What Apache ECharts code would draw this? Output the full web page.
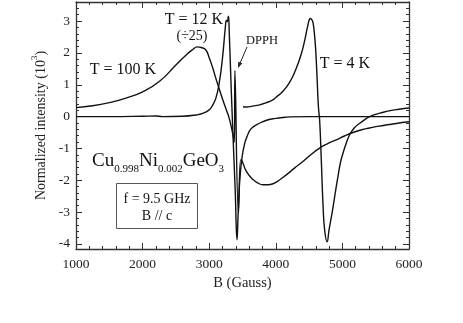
<!DOCTYPE html>
<html>
<head>
<meta charset="utf-8">
<script src="https://cdn.jsdelivr.net/npm/echarts@6/dist/echarts.min.js"></script>
<style>
  html, body { margin: 0; padding: 0; background: #fff; }
  #chart { width: 463px; height: 323px; }
</style>
</head>
<body>
<div id="chart"></div>
<script>
// magnetic field (Gauss) and normalized intensity
const fieldT100 = [1000, 1250, 1500, 1750, 2000, 2250, 2500, 2650, 2750, 2822, 2880, 2947, 3000, 3050, 3100, 3132, 3200, 3258, 3300, 3357, 3378, 3386, 3440, 3472, 3490, 3558, 3658, 3750, 3808, 3880, 3958, 4050, 4158, 4280, 4408, 4530, 4658, 4780, 4908, 5030, 5158, 5280, 5408, 5550, 5709, 5850, 6000]
const intT100 = [0.28, 0.34, 0.44, 0.58, 0.78, 1.10, 1.62, 1.93, 2.10, 2.19, 2.17, 2.10, 1.85, 1.55, 1.20, 0.99, 0.55, 0.21, -0.05, -0.57, -0.80, 1.45, -3.02, -1.36, -1.38, -1.72, -1.98, -2.11, -2.14, -2.14, -2.11, -2.00, -1.83, -1.62, -1.41, -1.19, -0.99, -0.85, -0.73, -0.61, -0.50, -0.42, -0.36, -0.30, -0.25, -0.20, -0.16]

const fieldT12 = [1000, 1500, 2000, 2200, 2300, 2600, 2800, 2900, 3000, 3050, 3100, 3150, 3200, 3243, 3258, 3270, 3288, 3300, 3330, 3357, 3390, 3418, 3430, 3445, 3465, 3495, 3533, 3570, 3608, 3650, 3708, 3808, 3900, 3958, 4100, 4208, 4500, 5000, 5500, 6000]
const intT12 = [0.0, 0.0, 0.01, 0.02, 0.0, 0.01, 0.05, 0.10, 0.21, 0.35, 0.58, 1.05, 1.85, 2.82, 3.02, 2.98, 3.15, 2.70, 0.90, -0.57, -2.30, -3.87, -3.30, -2.50, -1.85, -1.25, -0.84, -0.62, -0.44, -0.34, -0.26, -0.16, -0.09, -0.07, -0.03, -0.01, 0.0, 0.0, 0.0, 0.0]

const fieldT4 = [3508, 3560, 3650, 3758, 3850, 3950, 4000, 4100, 4200, 4300, 4380, 4440, 4480, 4519, 4545, 4559, 4580, 4599, 4620, 4640, 4658, 4683, 4708, 4733, 4770, 4800, 4830, 4859, 4900, 4934, 4970, 5009, 5060, 5109, 5180, 5260, 5340, 5410, 5500, 5600, 5700, 5850, 6000]
const intT4 = [0.31, 0.30, 0.33, 0.37, 0.43, 0.52, 0.60, 0.78, 1.05, 1.48, 1.95, 2.45, 2.85, 3.08, 3.03, 2.95, 2.60, 2.09, 1.20, 0.30, -0.10, -1.36, -2.72, -3.55, -3.93, -3.55, -3.20, -2.85, -2.30, -1.88, -1.45, -1.15, -0.82, -0.57, -0.35, -0.21, -0.09, 0.0, 0.07, 0.13, 0.18, 0.23, 0.27]

const yMajor = [-4, -3, -2, -1, 0, 1, 2, 3]
const yMinor = []
for (let i = -20; i <= 18; i++) yMinor.push(+(i * 0.2).toFixed(1))

const font = 'Liberation Serif'
const pairs = (xs, ys) => xs.map((x, i) => [x, ys[i]])

var dom = document.getElementById('chart')
var chart = echarts.init(dom, null, { renderer: 'canvas' })

const frame = { show: true, onZero: false, lineStyle: { color: '#333', width: 1.3 } }

function yAx(pos, major) {
  return {
    type: 'value', min: -4.16, max: 3.6, position: pos,
    axisLine: major ? frame : { show: false, onZero: false },
    axisTick: { show: true, inside: true, length: major ? 6 : 3, customValues: major ? yMajor : yMinor,
                lineStyle: { color: '#333', width: 1 } },
    axisLabel: { show: false },
    splitLine: { show: false }
  }
}

const yLeft = yAx('left', true)
yLeft.axisLabel = { show: true, customValues: yMajor, margin: 6, color: '#222',
                    fontFamily: font, fontSize: 13.5 }
yLeft.name = '{n|Normalized intensity (10}{sup|3}{n|)}'
yLeft.nameLocation = 'middle'
yLeft.nameGap = 26
yLeft.nameTextStyle = {
  rich: {
    n: { fontFamily: font, fontSize: 14, color: '#222', lineHeight: 16, padding: [4, 0, 0, 0], verticalAlign: 'top' },
    sup: { fontFamily: font, fontSize: 9, color: '#222', lineHeight: 10, verticalAlign: 'top' }
  }
}

function xAx(pos, main) {
  return {
    type: 'value', min: 1000, max: 6000, interval: 1000, position: pos,
    axisLine: frame,
    axisTick: { show: true, inside: true, length: 6, lineStyle: { color: '#333', width: 1 } },
    minorTick: { show: true, splitNumber: 5, length: 3, lineStyle: { color: '#333', width: 1 } },
    axisLabel: main ? { show: true, margin: 8, color: '#222', fontFamily: font, fontSize: 13.5,
                        formatter: v => String(v) } : { show: false },
    splitLine: { show: false },
    name: main ? 'B (Gauss)' : '',
    nameLocation: 'middle', nameGap: 27,
    nameTextStyle: { fontFamily: font, fontSize: 14.5, color: '#222' }
  }
}

const curve = (data) => ({
  type: 'line', data: data, showSymbol: false, smooth: 0.5,
  lineStyle: { color: '#111', width: 1.4 }, xAxisIndex: 0, yAxisIndex: 0, animation: false
})

function txt(x, y, text, size) {
  return { type: 'text', x: x, y: y,
           style: { text: text, font: size + 'px "' + font + '"', fill: '#111', align: 'center', verticalAlign: 'middle' } }
}

let options = {
  animation: false,
  grid: { left: 76, right: 54, top: 2, bottom: 74, containLabel: false },
  xAxis: [xAx('bottom', true), xAx('top', false)],
  yAxis: [yLeft, yAx('left', false), yAx('right', true), yAx('right', false)],
  series: [
    curve(pairs(fieldT100, intT100)),
    curve(pairs(fieldT12, intT12)),
    curve(pairs(fieldT4, intT4))
  ],
  graphic: [
    txt(123, 70, 'T = 100 K', 16),
    txt(194, 20, 'T = 12 K', 16),
    txt(192, 36, '(÷25)', 14),
    txt(262, 41, 'DPPH', 12.5),
    txt(345, 64, 'T = 4 K', 16),
    { type: 'line', shape: { x1: 247, y1: 47, x2: 238.6, y2: 66.5 }, style: { stroke: '#222', lineWidth: 1 } },
    { type: 'polygon', shape: { points: [[238, 68], [242.4, 63.2], [238.2, 61.8]] }, style: { fill: '#222' } },
    { type: 'text', x: 92, y: 152,
      style: { text: '{m|Cu}{s|0.998}{m|Ni}{s|0.002}{m|GeO}{s|3}', fill: '#111',
        rich: {
          m: { fontFamily: font, fontSize: 19, lineHeight: 22, verticalAlign: 'top', fill: '#111' },
          s: { fontFamily: font, fontSize: 11, lineHeight: 14, padding: [12, 0, 0, 0], verticalAlign: 'top', fill: '#111' }
        } } },
    { type: 'rect', shape: { x: 116.5, y: 183.5, width: 81, height: 45 }, style: { fill: 'none', stroke: '#555', lineWidth: 1 } },
    txt(157, 199, 'f = 9.5 GHz', 14),
    txt(157, 216, 'B // c', 14)
  ]
}
chart.setOption(options)
</script>
</body>
</html>
